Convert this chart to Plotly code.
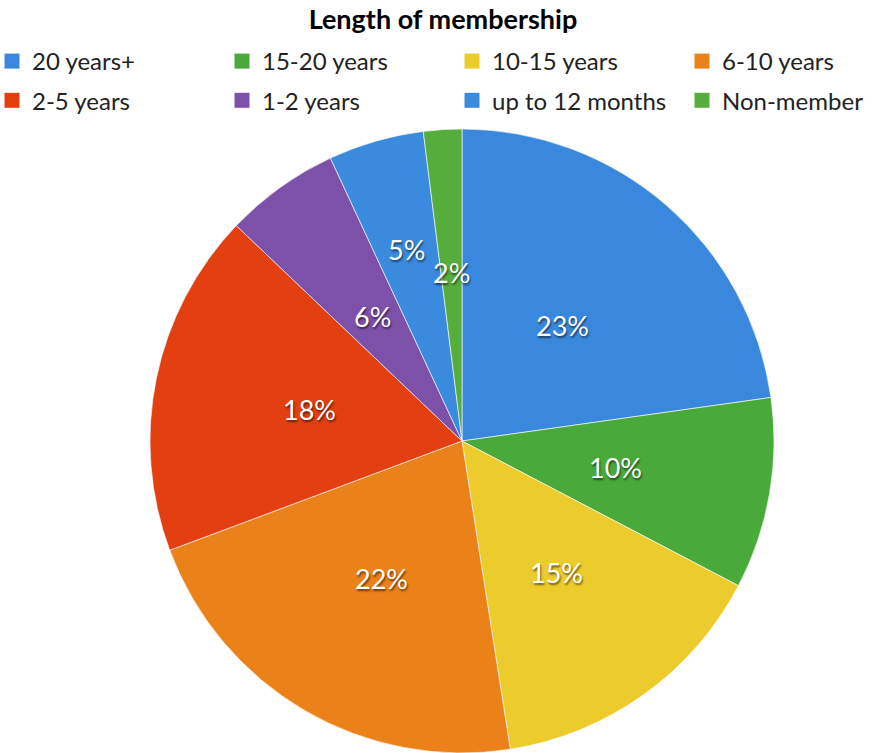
import math
import plotly.graph_objects as go

# Membership length categories and their shares (percent)
categories = ["20 years+", "15-20 years", "10-15 years", "6-10 years",
              "2-5 years", "1-2 years", "up to 12 months", "Non-member"]
shares = [23, 10, 15, 22, 18, 6, 5, 2]
slice_colors = ["#3a88de", "#4aa93b", "#eccb2c", "#ea8119",
                "#e33f10", "#7d50aa", "#3a8ade", "#55ad3b"]
# radial placement of each percentage label, as a fraction of the radius
label_radius = [0.49, 0.50, 0.52, 0.51, 0.50, 0.49, 0.64, 0.54]

W, H = 872, 753
TOP = 129
cx, cy, r = 462, 441, 312
plot_h = H - TOP
FONT = "Lato, sans-serif"

fig = go.Figure(go.Pie(
    labels=categories,
    values=shares,
    sort=False,
    direction="clockwise",
    rotation=0,
    marker=dict(colors=slice_colors, line=dict(color="rgba(255,255,255,0.6)", width=1)),
    textinfo="none",
    hoverinfo="label+percent",
    showlegend=False,
    domain=dict(x=[(cx - r) / W, (cx + r) / W], y=[0, 2 * r / plot_h]),
))

# percentage labels at the middle angle of each slice
total = sum(shares)
cum = 0
for v, f in zip(shares, label_radius):
    mid = (cum + v / 2) / total * 2 * math.pi
    cum += v
    px = cx + f * r * math.sin(mid)
    py = cy - f * r * math.cos(mid)
    fig.add_annotation(
        x=px / W, y=(H - py) / plot_h, xref="paper", yref="paper",
        text=f"{v}%", showarrow=False, xanchor="center", yanchor="middle",
        font=dict(family=FONT, size=27, color="white",
                  shadow="1px 2px 2px rgba(0,0,0,0.55)"),
    )

# legend: four columns of two entries, each column its own legend
n_cols = 4
col_step = 230
legend_ids = ["legend"] + [f"legend{i}" for i in range(2, n_cols + 1)]
for i, (name, color) in enumerate(zip(categories, slice_colors)):
    fig.add_trace(go.Scatter(
        x=[None], y=[None], mode="markers", name=name,
        marker=dict(symbol="square", size=15, color=color),
        legend=legend_ids[i % n_cols], legendgroup=name,
        hoverinfo="skip", showlegend=True,
    ))

legend_layout = {}
for j, lid in enumerate(legend_ids):
    legend_layout[lid] = dict(
        orientation="v", xref="paper", yref="container",
        x=(-8 + j * col_step) / W, xanchor="left",
        y=1 - 39 / H, yanchor="top",
        tracegroupgap=5, traceorder="grouped",
        font=dict(family=FONT, size=24, color="#222"),
        bgcolor="rgba(0,0,0,0)",
    )

fig.update_layout(
    width=W, height=H,
    margin=dict(l=0, r=0, t=TOP, b=0, autoexpand=False),
    paper_bgcolor="white",
    plot_bgcolor="white",
    xaxis=dict(visible=False),
    yaxis=dict(visible=False),
    title=dict(text="<b>Length of membership</b>", x=0.508, xanchor="center",
               y=1 - 20 / H, yanchor="middle",
               font=dict(family=FONT, size=27, color="black")),
    **legend_layout,
)

fig.write_html("out.html")
